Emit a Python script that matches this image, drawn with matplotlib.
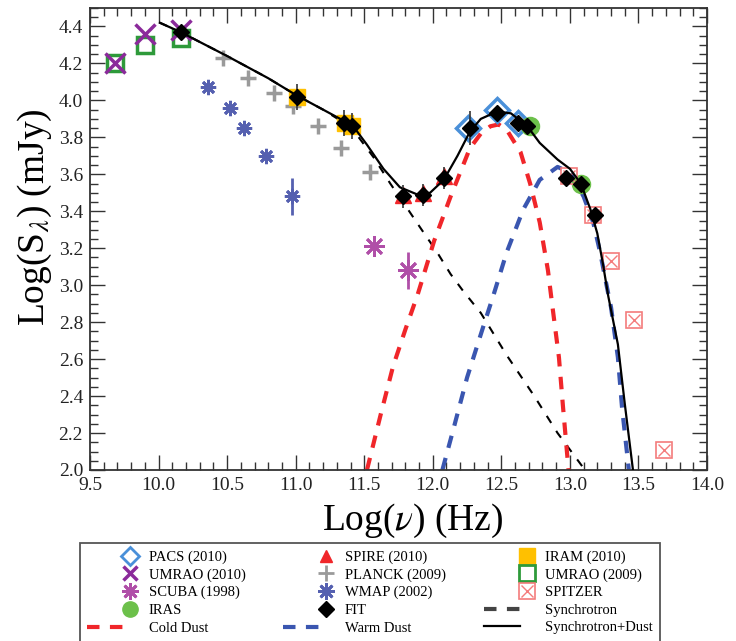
import matplotlib
matplotlib.use('Agg')
import matplotlib.pyplot as plt
from matplotlib.lines import Line2D
from matplotlib.legend_handler import HandlerLine2D
from matplotlib.ticker import MultipleLocator

plt.rcParams['font.family'] = ['Liberation Serif', 'DejaVu Serif']
plt.rcParams['mathtext.fontset'] = 'stix'

# --- observed data, log(nu [Hz]) vs log(S [mJy]) ---
umrao09_x = [9.68, 9.90, 10.16]
umrao09_y = [4.20, 4.30, 4.34]
umrao10_x = [9.68, 9.90, 10.16]
umrao10_y = [4.20, 4.36, 4.38]
pacs_x = [12.26, 12.47, 12.62]
pacs_y = [3.85, 3.95, 3.88]
spire_x = [11.78, 11.93, 12.08]
spire_y = [3.49, 3.50, 3.59]
iram_x = [11.01, 11.36, 11.41]
iram_y = [4.02, 3.88, 3.86]
planck_x = [10.47, 10.65, 10.84, 10.98, 11.16, 11.33, 11.54]
planck_y = [4.23, 4.12, 4.04, 3.97, 3.86, 3.74, 3.61]
wmap_x = [10.36, 10.52, 10.62, 10.78, 10.97]
wmap_y = [4.07, 3.96, 3.85, 3.70, 3.48]
wmap_err = [0, 0, 0, 0, 0.10]
scuba_x = [11.57, 11.82]
scuba_y = [3.21, 3.08]
scuba_err = [0, 0.10]
spitzer_x = [12.99, 13.17, 13.30, 13.47, 13.69]
spitzer_y = [3.59, 3.38, 3.13, 2.81, 2.11]
iras_x = [12.71, 13.08]
iras_y = [3.86, 3.55]
fit_x = [10.16, 11.01, 11.35, 11.41, 11.78, 11.93, 12.08, 12.27, 12.47, 12.62, 12.69, 12.97, 13.08, 13.18]
fit_y = [4.37, 4.02, 3.88, 3.86, 3.48, 3.49, 3.58, 3.85, 3.93, 3.88, 3.86, 3.58, 3.55, 3.38]
fit_err = [0, 0.07, 0.07, 0.07, 0.06, 0.06, 0.06, 0.09, 0, 0, 0, 0.03, 0.03, 0]

# --- model curves ---
sync_x = [10.01, 10.16, 10.5, 10.8, 11.0, 11.2, 11.35, 11.45, 11.57, 11.69, 11.81, 11.91,
          12.03, 12.13, 12.22, 12.35, 12.54, 12.74, 12.91, 13.09, 13.11]
sync_y = [4.42, 4.37, 4.24, 4.12, 4.03, 3.95, 3.88, 3.81, 3.69, 3.55, 3.42, 3.31,
          3.18, 3.06, 2.97, 2.85, 2.62, 2.40, 2.20, 2.02, 2.0]
cold_x = [11.52, 11.62, 11.71, 11.80, 11.89, 12.01, 12.13, 12.27, 12.35, 12.42, 12.48,
          12.54, 12.64, 12.71, 12.78, 12.84, 12.87, 12.92, 12.95, 12.99]
cold_y = [2.0, 2.30, 2.56, 2.76, 2.95, 3.24, 3.48, 3.74, 3.82, 3.86, 3.87,
          3.84, 3.72, 3.55, 3.34, 3.08, 2.90, 2.61, 2.34, 2.0]
warm_x = [12.07, 12.15, 12.25, 12.37, 12.44, 12.54, 12.66, 12.78, 12.91, 13.00, 13.10,
          13.17, 13.22, 13.27, 13.30, 13.35, 13.38, 13.43]
warm_y = [2.0, 2.22, 2.50, 2.78, 2.94, 3.18, 3.41, 3.57, 3.64, 3.61, 3.48,
          3.34, 3.18, 2.99, 2.88, 2.61, 2.34, 2.0]
total_x = [10.01, 10.16, 10.5, 10.8, 11.0, 11.2, 11.35, 11.42, 11.52, 11.64, 11.76, 11.89,
           11.98, 12.08, 12.18, 12.27, 12.35, 12.47, 12.57, 12.69, 12.78, 12.91, 13.00,
           13.08, 13.15, 13.20, 13.24, 13.28, 13.35, 13.40, 13.46]
total_y = [4.42, 4.37, 4.24, 4.12, 4.03, 3.95, 3.89, 3.86, 3.76, 3.63, 3.53, 3.49,
           3.50, 3.57, 3.70, 3.83, 3.90, 3.94, 3.93, 3.86, 3.77, 3.68, 3.63,
           3.55, 3.41, 3.28, 3.12, 2.94, 2.68, 2.36, 2.0]

red = '#f0262a'
blue = '#3a56b0'
wmap_c = '#5560b0'
scuba_c = '#b04fa8'
spitzer_c = '#f47c7c'

fig = plt.figure(figsize=(7.36, 6.41), dpi=100)
ax = fig.add_axes([0.1223, 0.2668, 0.8383, 0.7207])

# model curves
ax.plot(sync_x, sync_y, color='black', lw=1.5, dashes=(4, 4.5), zorder=2)
ax.plot(cold_x, cold_y, color=red, lw=3, dashes=(3, 2.5), zorder=2)
ax.plot(warm_x, warm_y, color=blue, lw=3, dashes=(3, 2.5), zorder=2)

# data points
ax.plot(umrao09_x, umrao09_y, 's', ms=12, mfc='none', mec='#2e9a3a', mew=2.5, zorder=3)
ax.plot(umrao10_x, umrao10_y, 'x', ms=14, mec='#8b2a9b', mew=2.5, zorder=3)
ax.plot(planck_x, planck_y, '+', ms=12, mec='#9a9a9a', mew=2.5, zorder=3)
ax.errorbar(wmap_x, wmap_y, yerr=wmap_err, fmt='none', ecolor=wmap_c, elinewidth=2, zorder=3)
ax.plot(wmap_x, wmap_y, marker=(8, 2, 0), ls='none', ms=11, mec=wmap_c, mew=2, zorder=3)
ax.errorbar(scuba_x, scuba_y, yerr=scuba_err, fmt='none', ecolor=scuba_c, elinewidth=2, zorder=3)
ax.plot(scuba_x, scuba_y, marker=(8, 2, 0), ls='none', ms=15, mec=scuba_c, mew=2, zorder=3)
ax.plot(iram_x, iram_y, 's', ms=12, color='#ffc000', zorder=3)
ax.plot(spire_x, spire_y, '^', ms=11, color=red, zorder=3)
ax.plot(pacs_x, pacs_y, 'D', ms=12, mfc='none', mec='#4a90d9', mew=2.5, zorder=3)
ax.plot(iras_x, iras_y, 'o', ms=13, color='#6cc04a', zorder=3)
ax.plot(spitzer_x, spitzer_y, 's', ms=11, mfc='none', mec=spitzer_c, mew=1.2, zorder=3)
ax.plot(spitzer_x, spitzer_y, 'x', ms=9, mec=spitzer_c, mew=1.0, zorder=3)

ax.plot(total_x, total_y, color='black', lw=1.6, zorder=4)
ax.errorbar(fit_x, fit_y, yerr=fit_err, fmt='D', ms=8, color='black', ecolor='#333333',
            elinewidth=1.2, zorder=5)

ax.set_xlim(9.5, 14.0)
ax.set_ylim(2.0, 4.5)
ax.xaxis.set_major_locator(MultipleLocator(0.5))
ax.xaxis.set_minor_locator(MultipleLocator(0.1))
ax.yaxis.set_major_locator(MultipleLocator(0.2))
ax.yaxis.set_minor_locator(MultipleLocator(0.05))
ax.tick_params(which='both', direction='in', top=True, right=True, colors='#333333',
               labelcolor='#222222', labelsize=14, pad=5)
ax.tick_params(which='major', length=11, width=1)
ax.tick_params(which='minor', length=5.5, width=1)
for s in ax.spines.values():
    s.set_linewidth(1.3)
    s.set_color('#333333')

ax.set_xlabel(r'Log($\nu$) (Hz)', fontsize=27)
ax.xaxis.set_label_coords(0.523, -0.068)
ax.set_ylabel(r'Log(S$_\lambda$) (mJy)', fontsize=27)
ax.yaxis.set_label_coords(-0.058, 0.548)


# legend: markers sit just right of the handle area, as in the reference
class RightMarker(HandlerLine2D):
    def create_artists(self, legend, orig_handle, xdescent, ydescent, width, height,
                       fontsize, trans):
        artists = super().create_artists(legend, orig_handle, xdescent, ydescent,
                                         width, height, fontsize, trans)
        if orig_handle.get_linestyle() in ('None', 'none', '', ' '):
            x = -xdescent + width + 0.45 * fontsize
            artists[0].set_xdata([x, x, x])
        return artists


def mk(**kw):
    return Line2D([], [], ls='none', **kw)


h_pacs = mk(marker='D', ms=9, mfc='none', mec='#4a90d9', mew=2)
h_umrao10 = mk(marker='x', ms=10, mec='#8b2a9b', mew=2.5)
h_scuba = mk(marker=(8, 2, 0), ms=12, mec=scuba_c, mew=2)
h_iras = mk(marker='o', ms=11, color='#6cc04a')
h_cold = Line2D([], [], color=red, lw=3, dashes=(3, 2.5))
h_spire = mk(marker='^', ms=9, color=red)
h_planck = mk(marker='+', ms=11, mec='#9a9a9a', mew=2)
h_wmap = mk(marker=(8, 2, 0), ms=12, mec=wmap_c, mew=2)
h_fit = mk(marker='D', ms=8, color='black')
h_warm = Line2D([], [], color=blue, lw=3, dashes=(3, 2.5))
h_iram = mk(marker='s', ms=12, color='#ffc000')
h_umrao09 = mk(marker='s', ms=11, mfc='none', mec='#2e9a3a', mew=2)
h_spitzer = (mk(marker='s', ms=11, mfc='none', mec=spitzer_c, mew=1.2),
             mk(marker='x', ms=9, mec=spitzer_c, mew=1.0))
h_sync = Line2D([], [], color='#444444', lw=3, dashes=(3, 2.5))
h_total = Line2D([], [], color='black', lw=1.6)

# column-major order for 3 columns
handles = [h_pacs, h_umrao10, h_scuba, h_iras, h_cold,
           h_spire, h_planck, h_wmap, h_fit, h_warm,
           h_iram, h_umrao09, h_spitzer, h_sync, h_total]
labels = ['PACS (2010)', 'UMRAO (2010)', 'SCUBA (1998)', 'IRAS', 'Cold Dust',
          'SPIRE (2010)', 'PLANCK (2009)', 'WMAP (2002)', 'FIT', 'Warm Dust',
          'IRAM (2010)', 'UMRAO (2009)', 'SPITZER', 'Synchrotron', 'Synchrotron+Dust']
leg = fig.legend(handles, labels, ncol=3, loc='upper left',
                 bbox_to_anchor=(80 / 736, 1 - 543 / 641),
                 handler_map={Line2D: RightMarker()},
                 fontsize=10.5, handlelength=2.5, handletextpad=1.7, labelspacing=0.3,
                 borderpad=0.5, borderaxespad=0, columnspacing=2.6,
                 fancybox=False, framealpha=1)
leg.get_frame().set_edgecolor('#555555')
leg.get_frame().set_linewidth(1.3)

fig.savefig('out.png', dpi=100)
